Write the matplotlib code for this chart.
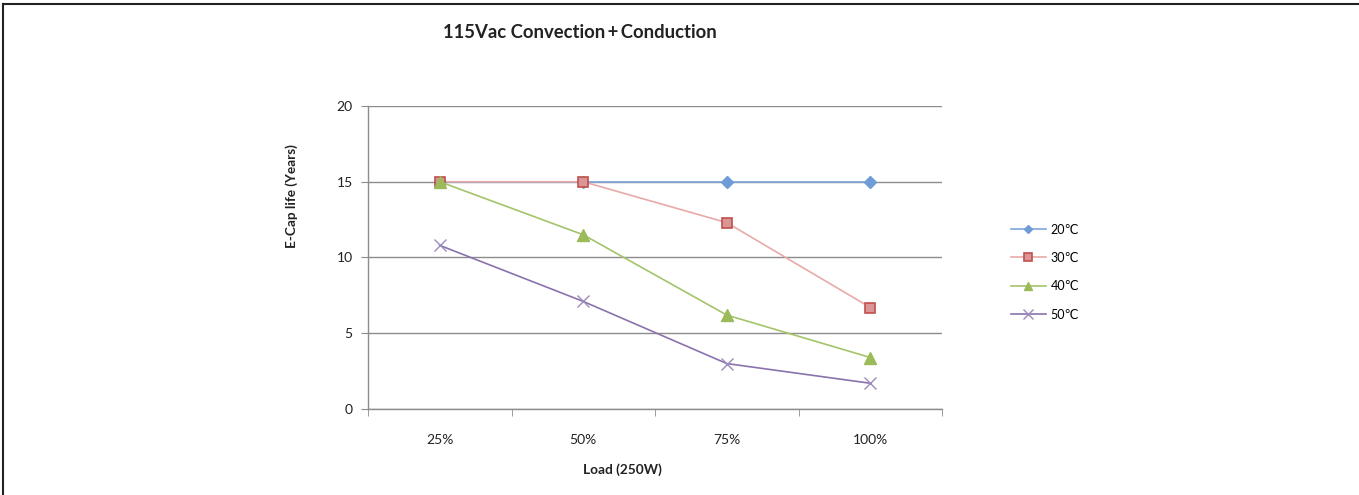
import numpy as np
import matplotlib
matplotlib.use("Agg")
import matplotlib.pyplot as plt
from matplotlib.lines import Line2D

plt.rcParams['font.family'] = ['Lato', 'DejaVu Sans']

# ---- data ----
loads = ["25%", "50%", "75%", "100%"]
life_20c = [15.0, 15.0, 15.0, 15.0]
life_30c = [15.0, 15.0, 12.3, 6.7]
life_40c = [15.0, 11.5, 6.2, 3.4]
life_50c = [10.8, 7.1, 3.0, 1.7]
series_names = ["20\u2103", "30\u2103", "40\u2103", "50\u2103"]

fig = plt.figure(figsize=(13.59, 4.95), dpi=100)
ax = fig.add_axes([0.2708, 0.1737, 0.4224, 0.6122])

x = np.arange(len(loads))
grid_c = "#8c8c8c"

styles = [
    dict(color="#7ea6dc", marker="D", ms=6, mfc="#6f9bd6", mec="#6f9bd6", lw=1.2),
    dict(color="#e8aaa8", marker="s", ms=7, mfc="#d99694", mec="#c0504d", mew=1.2, lw=1.2),
    dict(color="#a4c46a", marker="^", ms=8, mfc="#9bbb59", mec="#9bbb59", lw=1.2),
    dict(color="#8a72ad", marker="x", ms=9, mfc="none", mec="#9e8bbd", mew=1.0, lw=1.2),
]
data = [life_20c, life_30c, life_40c, life_50c]
for vals, st, name in zip(data, styles, series_names):
    ax.plot(x, vals, label=name, zorder=3, **st)

ax.set_xlim(-0.5, len(loads) - 0.5)
ax.set_ylim(0, 20)
ax.set_yticks([0, 5, 10, 15, 20])
ax.yaxis.grid(True, color=grid_c, lw=1.0)
ax.set_axisbelow(True)
ax.set_xticks(x)
ax.set_xticklabels(loads)
ax.set_xticks(np.arange(-0.5, len(loads)), minor=True)
ax.tick_params(axis="x", which="major", length=0, pad=18, labelsize=10, colors="#222222")
ax.tick_params(axis="x", which="minor", length=5, color=grid_c, direction="out")
ax.tick_params(axis="y", length=5, color=grid_c, labelsize=10, colors="#222222", pad=6)
for side in ["top", "right"]:
    ax.spines[side].set_visible(False)
for side in ["left", "bottom"]:
    ax.spines[side].set_color(grid_c)
    ax.spines[side].set_linewidth(1.0)

fig.text(580 / 1359, 1 - 33 / 495, "115Vac Convection\u2009+\u2009Conduction",
         ha="center", va="center", fontsize=13.3, fontweight="bold", color="#222222")
fig.text(622 / 1359, 1 - 470 / 495, "Load (250W)", ha="center", va="center",
         fontsize=9.8, fontweight="bold", color="#222222")
fig.text(292 / 1359, 1 - 196 / 495, "E-Cap life (Years)", ha="center", va="center",
         rotation=90, fontsize=9.8, fontweight="bold", color="#222222")

ax.legend(loc="center left", bbox_to_anchor=(1.1, 0.452), frameon=False,
          fontsize=9, labelspacing=1.31, handlelength=2.8, handletextpad=0.4,
          markerscale=0.75)

# outer frame (top and left edges visible in the original)
fig.add_artist(Line2D([0.0025, 0.0025], [0, 0.992], transform=fig.transFigure,
                      color="#222222", lw=1.5))
fig.add_artist(Line2D([0.0025, 1.0], [0.992, 0.992], transform=fig.transFigure,
                      color="#222222", lw=1.5))

fig.savefig("out.png", dpi=100)
